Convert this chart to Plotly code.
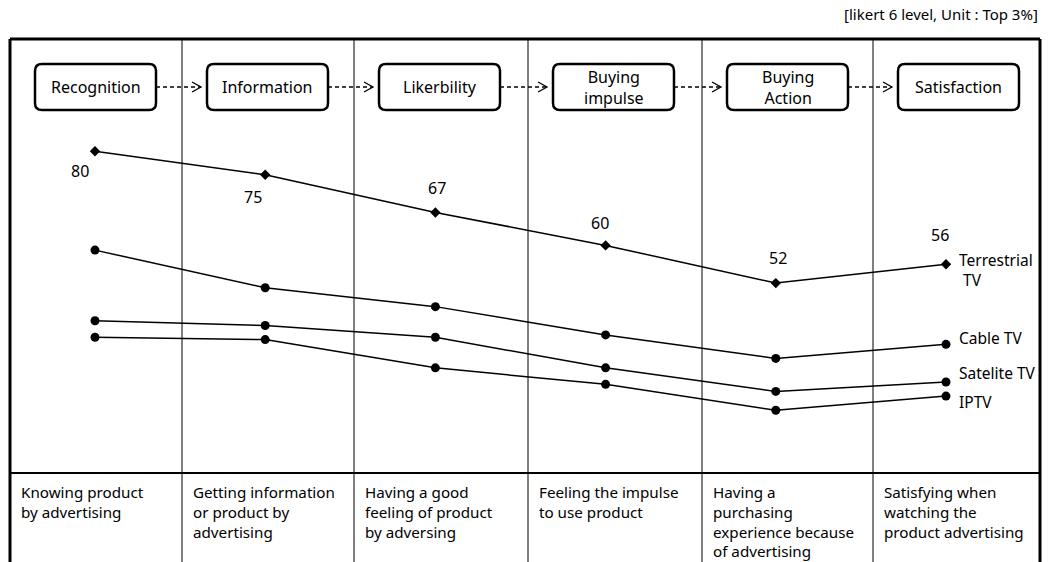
import plotly.graph_objects as go

# Stages of the advertising-effect funnel
stages = ["Recognition", "Information", "Likerbility", "Buying<br>impulse", "Buying<br>Action", "Satisfaction"]
descriptions = [
    "Knowing product<br>by advertising",
    "Getting information<br>or product by<br>advertising",
    "Having a good<br>feeling of product<br>by adversing",
    "Feeling the impulse<br>to use product",
    "Having a<br>purchasing<br>experience because<br>of advertising",
    "Satisfying when<br>watching the<br>product advertising",
]

# Top-3 share (%) per medium at each stage
terrestrial = [80, 75, 67, 60, 52, 56]
cable = [59, 51, 47, 41, 36, 39]
satelite = [44, 43, 40.5, 34, 29, 31]
iptv = [40.5, 40, 34, 30.5, 25, 28]

series_names = ["Terrestrial<br> TV", "Cable TV", "Satelite TV", "IPTV"]
note = "[likert 6 level, Unit : Top 3%]"

W, H = 1050, 562
FONT = "Noto Sans"

# Page geometry (pixels)
col_edges = [10, 182, 354, 528, 702, 873, 1040]
frame_top = 39
table_line = 473
box_top, box_bot = 64, 110
box_w = 121
box_y = (box_top + box_bot) / 2

# Data axes: category i sits at x0 + i*step pixels, value v at y = y0 - k*v pixels
x0, step = 95.0, 170.2
y0, k = 528.0, 4.71
xr = [(0 - x0) / step, (W - x0) / step]
yr = [(y0 - H) / k, y0 / k]

fig = go.Figure()
idx = list(range(len(stages)))

fig.add_trace(go.Scatter(
    x=idx, y=terrestrial, mode="lines+markers",
    line=dict(color="black", width=1.5),
    marker=dict(symbol="diamond", size=8, color="black"),
    hoverinfo="skip", showlegend=False,
))
for vals in (cable, satelite, iptv):
    fig.add_trace(go.Scatter(
        x=idx, y=vals, mode="lines+markers",
        line=dict(color="black", width=1.5),
        marker=dict(symbol="circle", size=9, color="black"),
        hoverinfo="skip", showlegend=False,
    ))

# invisible anchor trace for the pixel-based overlay axes
fig.add_trace(go.Scatter(x=[0], y=[0], xaxis="x2", yaxis="y2", mode="markers",
                         marker=dict(opacity=0), hoverinfo="skip", showlegend=False))

shapes = []
annotations = []

def line(xa, ya, xb, yb, width=1, dash=None):
    d = dict(type="line", xref="x2", yref="y2", x0=xa, y0=ya, x1=xb, y1=yb,
             line=dict(color="black", width=width))
    if dash:
        d["line"]["dash"] = dash
    shapes.append(d)

# Outer frame and grid
line(col_edges[0], frame_top, col_edges[-1], frame_top, width=3)
line(col_edges[0], frame_top, col_edges[0], H + 5, width=3)
line(col_edges[-1], frame_top, col_edges[-1], H + 5, width=3)
for cx in col_edges[1:-1]:
    line(cx, frame_top, cx, H + 5, width=1)
line(col_edges[0], table_line, col_edges[-1], table_line, width=2)

# Stage boxes with rounded corners and dashed arrows between them
r = 7
box_lefts = []
for i, name in enumerate(stages):
    cl, cr = col_edges[i], col_edges[i + 1]
    bl = cl + 25
    br = bl + box_w
    box_lefts.append((bl, br))
    t, b = box_top, box_bot
    path = (f"M {bl + r},{t} L {br - r},{t} Q {br},{t} {br},{t + r} "
            f"L {br},{b - r} Q {br},{b} {br - r},{b} L {bl + r},{b} "
            f"Q {bl},{b} {bl},{b - r} L {bl},{t + r} Q {bl},{t} {bl + r},{t} Z")
    shapes.append(dict(type="path", xref="x2", yref="y2", path=path,
                       line=dict(color="black", width=2.5), fillcolor="white"))
    annotations.append(dict(x=(bl + br) / 2, y=box_y, xref="x2", yref="y2", text=name,
                            showarrow=False, font=dict(family=FONT, size=16, color="black"),
                            xanchor="center", yanchor="middle"))

for i in range(len(stages) - 1):
    xa = box_lefts[i][1]
    xb = box_lefts[i + 1][0] - 6
    line(xa, box_y, xb, box_y, width=1.3, dash="4px,3px")
    shapes.append(dict(type="path", xref="x2", yref="y2",
                       path=f"M {xb - 9},{box_y - 5} L {xb},{box_y} L {xb - 9},{box_y + 5}",
                       line=dict(color="black", width=1.3)))

# Stage descriptions in the bottom row
for i, txt in enumerate(descriptions):
    annotations.append(dict(x=col_edges[i] + 9, y=table_line + 7, xref="x2", yref="y2",
                            text=txt, showarrow=False, align="left",
                            xanchor="left", yanchor="top",
                            font=dict(family=FONT, size=15.2, color="black")))

# Value labels for terrestrial TV (pixel offsets from each point)
label_shift = [(-15, -20), (-12, -22), (2, 24), (-6, 22), (2, 25), (-6, 29)]
for i, v in enumerate(terrestrial):
    dx, dy = label_shift[i]
    annotations.append(dict(x=i, y=v, xref="x", yref="y", text=str(v), showarrow=False,
                            xshift=dx, yshift=dy, xanchor="center", yanchor="middle",
                            font=dict(family=FONT, size=16, color="black")))

# Series names beside the last point
name_shift = [-6, 6, 9, -6]
for name, vals, dy in zip(series_names, (terrestrial, cable, satelite, iptv), name_shift):
    annotations.append(dict(x=len(stages) - 1, y=vals[-1], xref="x", yref="y", text=name,
                            showarrow=False, xshift=11, yshift=dy, align="left",
                            xanchor="left", yanchor="middle",
                            font=dict(family=FONT, size=15.5, color="black")))

# Unit note in the top right
annotations.append(dict(x=1040, y=14, xref="x2", yref="y2", text=note, showarrow=False,
                        xanchor="right", yanchor="middle",
                        font=dict(family=FONT, size=15, color="black")))

hidden = dict(visible=False, showgrid=False, zeroline=False)
fig.update_layout(
    width=W, height=H,
    margin=dict(l=0, r=0, t=0, b=0),
    paper_bgcolor="white", plot_bgcolor="white",
    xaxis=dict(range=xr, domain=[0, 1], **hidden),
    yaxis=dict(range=yr, domain=[0, 1], **hidden),
    xaxis2=dict(range=[0, W], overlaying="x", domain=[0, 1], **hidden),
    yaxis2=dict(range=[H, 0], overlaying="y", domain=[0, 1], **hidden),
    shapes=shapes,
    annotations=annotations,
)

fig.write_html("out.html")
